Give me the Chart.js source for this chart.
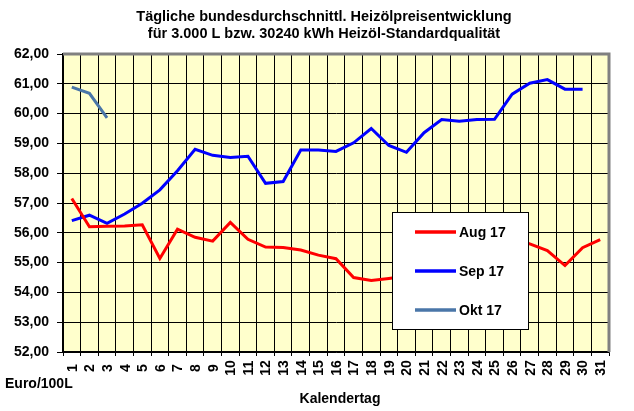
<!DOCTYPE html>
<html>
<head>
<meta charset="utf-8">
<script src="https://cdn.jsdelivr.net/npm/chart.js@4"></script>
<style>
html,body{margin:0;padding:0;background:#fff;}
#wrap{width:634px;height:411px;}
</style>
</head>
<body>
<div id="wrap"><canvas id="c" width="634" height="411"></canvas></div>
<script>
// ---- data ----
const days = ['1','2','3','4','5','6','7','8','9','10','11','12','13','14','15','16','17','18','19','20','21','22','23','24','25','26','27','28','29','30','31'];
const aug17 = [57.15,56.20,56.22,56.23,56.27,55.14,56.12,55.85,55.72,56.35,55.78,55.52,55.51,55.42,55.25,55.13,54.50,54.40,54.47,54.55,54.80,55.10,55.35,55.50,55.70,55.85,55.63,55.40,54.90,55.50,55.77];
const sep17 = [56.41,56.59,56.32,56.63,56.99,57.44,58.08,58.80,58.60,58.53,58.57,57.66,57.72,58.78,58.78,58.73,59.02,59.50,58.93,58.70,59.36,59.80,59.74,59.80,59.81,60.65,61.02,61.14,60.82,60.82];
const okt17 = [60.89,60.68,59.86];
const seriesNames = ['Aug 17','Sep 17','Okt 17'];
const titleLines = ['Tägliche bundesdurchschnittl. Heizölpreisentwicklung','für 3.000 L bzw. 30240 kWh Heizöl-Standardqualität'];
const yAxisUnit = 'Euro/100L';
const xAxisTitle = 'Kalendertag';
const yMin = 52, yMax = 62, yStep = 1;

const FONT = '"Liberation Sans", Arial, sans-serif';

const bgPlugin = {
  id: 'bg',
  beforeDraw(chart) {
    const a = chart.chartArea, ctx = chart.ctx;
    ctx.save();
    ctx.fillStyle = '#FFFFCC';
    ctx.fillRect(a.left, a.top, a.right - a.left, a.bottom - a.top);
    ctx.restore();
  }
};

const textPlugin = {
  id: 'texts',
  afterDraw(chart) {
    const ctx = chart.ctx, sx = chart.scales.x, a = chart.chartArea;
    ctx.save();
    ctx.fillStyle = '#000';
    // title
    ctx.font = 'bold 14.5px ' + FONT;
    ctx.textAlign = 'center';
    ctx.textBaseline = 'middle';
    titleLines.forEach((t, i) => ctx.fillText(t, 324, 16.5 + i * 17.5));
    // x tick labels
    ctx.font = 'bold 14px ' + FONT;
    sx.ticks.forEach((t, i) => {
      const x = sx.getPixelForTick(i);
      ctx.save();
      ctx.translate(x + 1, a.bottom + 16);
      ctx.rotate(-Math.PI / 2);
      ctx.fillText(sx.getLabelForValue(t.value), 0, 0);
      ctx.restore();
    });
    // axis titles
    ctx.textAlign = 'left';
    ctx.fillText(yAxisUnit, 5, 384);
    ctx.textAlign = 'center';
    ctx.fillText(xAxisTitle, 340, 399);
    // plot border top/right (grey)
    ctx.strokeStyle = '#808080';
    ctx.lineWidth = 3;
    ctx.beginPath();
    ctx.moveTo(a.left, a.top);
    ctx.lineTo(a.right, a.top);
    ctx.lineTo(a.right, a.bottom);
    ctx.stroke();
    ctx.restore();
  }
};

const legendPlugin = {
  id: 'boxlegend',
  afterDatasetsDraw(chart) {
    const ctx = chart.ctx;
    const bx = 392.5, by = 212.5, bw = 136, bh = 117;
    ctx.save();
    ctx.fillStyle = '#fff';
    ctx.fillRect(bx, by, bw, bh);
    ctx.strokeStyle = '#000';
    ctx.lineWidth = 1;
    ctx.strokeRect(bx, by, bw, bh);
    ctx.font = 'bold 14px ' + FONT;
    ctx.textBaseline = 'middle';
    ctx.textAlign = 'left';
    chart.data.datasets.forEach((ds, i) => {
      const y = 232 + i * 39;
      ctx.strokeStyle = ds.borderColor;
      ctx.lineWidth = 3.5;
      ctx.beginPath();
      ctx.moveTo(415, y);
      ctx.lineTo(456, y);
      ctx.stroke();
      ctx.fillStyle = '#000';
      ctx.fillText(ds.label, 459, y + 1);
    });
    ctx.restore();
  }
};

new Chart(document.getElementById('c'), {
  type: 'line',
  data: {
    labels: days,
    datasets: [
      { label: seriesNames[0], data: aug17, borderColor: '#FF0000', backgroundColor: '#FF0000', borderWidth: 3, pointRadius: 0, tension: 0, fill: false },
      { label: seriesNames[1], data: sep17, borderColor: '#0000FF', backgroundColor: '#0000FF', borderWidth: 3, pointRadius: 0, tension: 0, fill: false },
      { label: seriesNames[2], data: okt17, borderColor: '#4A76A8', backgroundColor: '#4A76A8', borderWidth: 3, pointRadius: 0, tension: 0, fill: false }
    ]
  },
  options: {
    responsive: false,
    animation: false,
    devicePixelRatio: 1,
    layout: { padding: { top: 54, left: 0, right: 25, bottom: 0 } },
    plugins: {
      legend: { display: false },
      tooltip: { enabled: false },
      title: { display: false }
    },
    scales: {
      x: {
        type: 'category',
        offset: true,
        grid: { offset: true, color: '#000', lineWidth: 1, drawTicks: true, tickLength: 4 },
        border: { color: '#000', width: 1.5 },
        ticks: { display: false, autoSkip: false },
        afterFit(scale) { scale.height = 59; }
      },
      y: {
        min: yMin, max: yMax,
        grid: { color: '#000', lineWidth: 1, drawTicks: true, tickLength: 6 },
        border: { color: '#000', width: 2 },
        ticks: {
          stepSize: yStep,
          padding: 8,
          color: '#000',
          font: { family: FONT, size: 14, weight: 'bold' },
          callback: v => v.toFixed(2).replace('.', ',')
        },
        afterFit(scale) { scale.width = 63; }
      }
    }
  },
  plugins: [bgPlugin, legendPlugin, textPlugin]
});
</script>
</body>
</html>
